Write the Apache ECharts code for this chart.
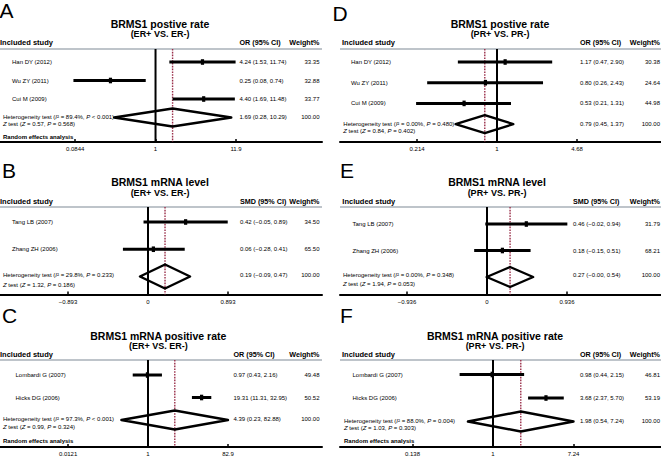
<!DOCTYPE html>
<html>
<head>
<meta charset="utf-8">
<script src="https://cdn.jsdelivr.net/npm/echarts@6/dist/echarts.min.js"></script>
<style>html,body{margin:0;padding:0;background:#fff}#c{width:661px;height:458px}</style>
</head>
<body>
<div id="c"></div>
<script>
const FF = '"Liberation Sans", Arial, Helvetica, sans-serif';
const MINUS = '\u2212';

// ---------- Panel A: BRMS1 postive rate (ER+ VS. ER-), OR ----------
const studiesA = ['Han DY (2012)', 'Wu ZY (2011)', 'Cui M (2009)'];
const estA = [4.24, 0.25, 4.40];
const lowA = [1.53, 0.08, 1.69];
const highA = [11.74, 0.74, 11.48];
const weightA = [33.35, 32.88, 33.77];
const pooledA = [1.69, 0.28, 10.29];
const hetA = ['89.4%', '< 0.001', '0.57', '0.568'];
const ticksA = [0.0844, 1, 11.9];

// ---------- Panel B: BRMS1 mRNA level (ER+ VS. ER-), SMD ----------
const studiesB = ['Tang LB (2007)', 'Zhang ZH (2006)'];
const estB = [0.42, 0.06];
const lowB = [-0.05, -0.28];
const highB = [0.89, 0.41];
const weightB = [34.50, 65.50];
const pooledB = [0.19, -0.09, 0.47];
const hetB = ['29.8%', '= 0.233', '1.32', '0.186'];
const ticksB = [-0.893, 0, 0.893];

// ---------- Panel C: BRMS1 mRNA positive rate (ER+ VS. ER-), OR ----------
const studiesC = ['Lombardi G (2007)', 'Hicks DG (2006)'];
const estC = [0.97, 19.31];
const lowC = [0.43, 11.31];
const highC = [2.16, 32.95];
const weightC = [49.48, 50.52];
const pooledC = [4.39, 0.23, 82.88];
const hetC = ['97.3%', '< 0.001', '0.99', '0.324'];
const ticksC = [0.0121, 1, 82.9];

// ---------- Panel D: BRMS1 postive rate (PR+ VS. PR-), OR ----------
const studiesD = ['Han DY (2012)', 'Wu ZY (2011)', 'Cui M (2009)'];
const estD = [1.17, 0.80, 0.53];
const lowD = [0.47, 0.26, 0.21];
const highD = [2.90, 2.43, 1.31];
const weightD = [30.38, 24.64, 44.98];
const pooledD = [0.79, 0.45, 1.37];
const hetD = ['0.00%', '= 0.480', '0.84', '0.402'];
const ticksD = [0.214, 1, 4.68];

// ---------- Panel E: BRMS1 mRNA level (PR+ VS. PR-), SMD ----------
const studiesE = ['Tang LB (2007)', 'Zhang ZH (2006)'];
const estE = [0.46, 0.18];
const lowE = [-0.02, -0.15];
const highE = [0.94, 0.51];
const weightE = [31.79, 68.21];
const pooledE = [0.27, -0.004, 0.54];
const hetE = ['0.00%', '= 0.348', '1.94', '0.053'];
const ticksE = [-0.936, 0, 0.936];

// ---------- Panel F: BRMS1 mRNA positive rate (PR+ VS. PR-), OR ----------
const studiesF = ['Lombardi G (2007)', 'Hicks DG (2006)'];
const estF = [0.98, 3.68];
const lowF = [0.44, 2.37];
const highF = [2.15, 5.70];
const weightF = [46.81, 53.19];
const pooledF = [1.98, 0.54, 7.24];
const hetF = ['88.0%', '= 0.004', '1.03', '0.303'];
const ticksF = [0.138, 1, 7.24];

const panels = [
  {letter:'A', title:'BRMS1 postive rate', sub:'(ER+ VS. ER-)', measure:'OR (95% CI)', log:true, random:true,
   names:studiesA, est:estA, low:lowA, high:highA, weight:weightA, pooled:pooledA, het:hetA, ticks:ticksA,
   ox:0, w:322, letterPos:[-0.5,10.5], titleX:160, titleY:23.5, subY:33.5, headY:42, lineY:49, axisY:142,
   yr:[-0.703,4.324], span:[-1.932,2.068], headX:0, nameX:12, ciX:239.5, wX:319.5, hetX:3, hetDy:[-0.5,6.8], dia:9, randomY:137},
  {letter:'B', title:'BRMS1 mRNA level', sub:'(ER+ VS. ER-)', measure:'SMD (95% CI)', log:false, random:false,
   names:studiesB, est:estB, low:lowB, high:highB, weight:weightB, pooled:pooledB, het:hetB, ticks:ticksB,
   ox:0, w:322, letterPos:[2,170.5], titleX:160, titleY:181.5, subY:192.5, headY:201, lineY:207, axisY:294.5,
   yr:[-0.55,2.661], span:[-1.85,2.175], headX:0, nameX:12, ciX:240, wX:319.5, hetX:3, hetDy:[-1.2,9], dia:12, randomY:0},
  {letter:'C', title:'BRMS1 mRNA positive rate', sub:'(ER+ VS. ER-)', measure:'OR (95% CI)', log:true, random:true,
   names:studiesC, est:estC, low:lowC, high:highC, weight:weightC, pooled:pooledC, het:hetC, ticks:ticksC,
   ox:0, w:322, letterPos:[2,315.5], titleX:158.3, titleY:335.5, subY:346, headY:354, lineY:360, axisY:447,
   yr:[-0.667,3.2], span:[-1.85,2.175], headX:0, nameX:15.5, ciX:233.5, wX:319.5, hetX:3, hetDy:[-1,7], dia:9.5, randomY:441},
  {letter:'D', title:'BRMS1 postive rate', sub:'(PR+ VS. PR-)', measure:'OR (95% CI)', log:true, random:false,
   names:studiesD, est:estD, low:lowD, high:highD, weight:weightD, pooled:pooledD, het:hetD, ticks:ticksD,
   ox:340, w:321, letterPos:[332.5,13], titleX:160, titleY:23.5, subY:33.5, headY:42, lineY:49, axisY:142,
   yr:[-0.628,3.865], span:[-1.9625,2.05], headX:2, nameX:11, ciX:240, wX:320, hetX:3.3, hetDy:[0,7], dia:9, randomY:0},
  {letter:'E', title:'BRMS1 mRNA level', sub:'(PR+ VS. PR-)', measure:'SMD (95% CI)', log:false, random:false,
   names:studiesE, est:estE, low:lowE, high:highE, weight:weightE, pooled:pooledE, het:hetE, ticks:ticksE,
   ox:340, w:321, letterPos:[340,170.5], titleX:157, titleY:181.5, subY:192.5, headY:201, lineY:207, axisY:294.5,
   yr:[-0.642,2.66], span:[-1.8375,2.175], headX:2.3, nameX:12.5, ciX:233, wX:320, hetX:3, hetDy:[-2.4,7.3], dia:10, randomY:0},
  {letter:'F', title:'BRMS1 mRNA positive rate', sub:'(PR+ VS. PR-)', measure:'OR (95% CI)', log:true, random:true,
   names:studiesF, est:estF, low:lowF, high:highF, weight:weightF, pooled:pooledF, het:hetF, ticks:ticksF,
   ox:340, w:321, letterPos:[340,315.5], titleX:155, titleY:335.5, subY:346, headY:354, lineY:360, axisY:447,
   yr:[-0.617,3.085], span:[-1.9006,2.087], headX:2, nameX:12.5, ciX:240, wX:320, hetX:4, hetDy:[-0.5,6.8], dia:10, randomY:441}
];

function fmt(v) { return v.toFixed(2).replace('-', MINUS); }
function ciText(e, l, h) { return fmt(e) + ' (' + fmt(l) + ', ' + fmt(h) + ')'; }
function txt(x, y, text, align, extra) {
  return {type:'text', x:x, y:y, style:Object.assign({text:text, fontSize:6, fontFamily:FF, fill:'#000', align:align || 'left', verticalAlign:'middle'}, extra || {})};
}

const grid = [], xAxis = [], yAxis = [], series = [], graphics = [];

panels.forEach((P, k) => {
  const tx = P.log ? (v => Math.log10(v)) : (v => v);
  const T = tx(P.ticks[2]);
  const tickPos = P.ticks.map(tx);
  grid.push({left:P.ox, top:P.lineY, width:P.w, height:P.axisY - P.lineY, containLabel:false});
  xAxis.push({
    gridIndex:k, type:'value', min:P.span[0] * T, max:P.span[1] * T,
    axisLine:{show:true, onZero:false, lineStyle:{color:'#000', width:2}},
    axisTick:{show:true, inside:true, length:3, customValues:tickPos, lineStyle:{color:'#000', width:1.5}},
    axisLabel:{show:true, customValues:tickPos, margin:4, fontSize:6, color:'#000', fontFamily:FF,
      formatter:function (v) {
        let best = P.ticks[0], bd = Infinity;
        P.ticks.forEach(t => { const d = Math.abs(tx(t) - v); if (d < bd) { bd = d; best = t; } });
        return String(best).replace('-', MINUS);
      }},
    splitLine:{show:false}
  });
  yAxis.push({gridIndex:k, type:'value', inverse:true, min:P.yr[0], max:P.yr[1], show:false});

  const nStudy = P.names.length;
  // reference lines: null effect (solid) and pooled estimate (dotted red)
  series.push({
    type:'custom', xAxisIndex:k, yAxisIndex:k, z:1, silent:true,
    encode:{x:[0,1], y:2},
    data:[[tx(P.log ? 1 : 0), tx(P.pooled[0]), 0]],
    renderItem:function (params, api) {
      const cs = params.coordSys;
      const x0 = api.coord([api.value(0), 0])[0];
      const xp = api.coord([api.value(1), 0])[0];
      return {type:'group', children:[
        {type:'line', shape:{x1:x0, y1:cs.y, x2:x0, y2:cs.y + cs.height}, style:{stroke:'#000', lineWidth:2}},
        {type:'line', shape:{x1:xp, y1:cs.y, x2:xp, y2:cs.y + cs.height}, style:{stroke:'#9a2f4a', lineWidth:1.4, lineDash:[1.6,1.2]}}
      ]};
    }
  });
  // individual studies
  series.push({
    type:'custom', xAxisIndex:k, yAxisIndex:k, z:2, silent:true,
    encode:{x:[0,1,2], y:3},
    data:P.names.map((n, i) => [tx(P.est[i]), tx(P.low[i]), tx(P.high[i]), i]),
    renderItem:function (params, api) {
      const i = params.dataIndex, cs = params.coordSys;
      const r = api.value(3);
      const pe = api.coord([api.value(0), r]);
      const pl = api.coord([api.value(1), r]);
      const ph = api.coord([api.value(2), r]);
      const y = pe[1];
      return {type:'group', children:[
        {type:'line', shape:{x1:pl[0], y1:y, x2:ph[0], y2:y}, style:{stroke:'#000', lineWidth:3}},
        {type:'rect', shape:{x:pe[0] - 1.6, y:y - 2.8, width:3.2, height:5.6}, style:{fill:'#000'}},
        txt(cs.x + P.nameX, y, P.names[i], 'left'),
        txt(cs.x + P.ciX, y, ciText(P.est[i], P.low[i], P.high[i]), 'left'),
        txt(cs.x + P.wX, y, P.weight[i].toFixed(2), 'right')
      ]};
    }
  });
  // pooled estimate
  series.push({
    type:'custom', xAxisIndex:k, yAxisIndex:k, z:3, silent:true,
    encode:{x:[0,1,2], y:3},
    data:[[tx(P.pooled[0]), tx(P.pooled[1]), tx(P.pooled[2]), nStudy]],
    renderItem:function (params, api) {
      const cs = params.coordSys;
      const r = api.value(3);
      const pe = api.coord([api.value(0), r]);
      const pl = api.coord([api.value(1), r]);
      const ph = api.coord([api.value(2), r]);
      const y = pe[1], h = P.dia;
      const rich = {
        it:{fontStyle:'italic', fontSize:6, fontFamily:FF, fill:'#000'},
        n:{fontSize:6, fontFamily:FF, fill:'#000'}
      };
      const l1 = '{n|Heterogeneity test (}{it|I}{n|\u00b2 = ' + P.het[0] + ', }{it|P}{n| ' + P.het[1] + ')}';
      const l2 = '{it|Z}{n| test (}{it|Z}{n| = ' + P.het[2] + ', }{it|P}{n| = ' + P.het[3] + ')}';
      const y1 = y + P.hetDy[0], y2 = y + P.hetDy[1];
      return {type:'group', children:[
        {type:'polygon', shape:{points:[[pl[0], y], [pe[0], y - h], [ph[0], y], [pe[0], y + h]]},
         style:{stroke:'#000', fill:null, lineWidth:2.4, lineJoin:'round'}},
        txt(cs.x + P.hetX, y1, l1, 'left', {rich:rich}),
        txt(cs.x + P.hetX, y2, l2, 'left', {rich:rich}),
        txt(cs.x + P.ciX, y1, ciText(P.pooled[0], P.pooled[1], P.pooled[2]), 'left'),
        txt(cs.x + P.wX, y1, (100).toFixed(2), 'right')
      ]};
    }
  });

  // static texts
  graphics.push({type:'text', x:P.letterPos[0], y:P.letterPos[1],
    style:{text:P.letter, fontSize:21, fontFamily:FF, fill:'#000', align:'left', verticalAlign:'middle'}});
  graphics.push({type:'text', x:P.ox + P.titleX, y:P.titleY,
    style:{text:P.title, fontSize:10.5, fontWeight:'bold', fontFamily:FF, fill:'#000', align:'center', verticalAlign:'middle'}});
  graphics.push({type:'text', x:P.ox + P.titleX, y:P.subY,
    style:{text:P.sub, fontSize:9, fontWeight:'bold', fontFamily:FF, fill:'#000', align:'center', verticalAlign:'middle'}});
  graphics.push({type:'text', x:P.ox + P.headX, y:P.headY,
    style:{text:'Included study', fontSize:7.5, fontWeight:'bold', fontFamily:FF, fill:'#000', align:'left', verticalAlign:'middle'}});
  graphics.push({type:'text', x:P.ox + P.ciX, y:P.headY,
    style:{text:P.measure, fontSize:7.2, fontWeight:'bold', fontFamily:FF, fill:'#000', align:'left', verticalAlign:'middle'}});
  graphics.push({type:'text', x:P.ox + P.wX, y:P.headY,
    style:{text:'Weight%', fontSize:7.2, fontWeight:'bold', fontFamily:FF, fill:'#000', align:'right', verticalAlign:'middle'}});
  graphics.push({type:'line', shape:{x1:P.ox, y1:P.lineY, x2:P.ox + P.w, y2:P.lineY},
    style:{stroke:'#a9b1b8', lineWidth:1.6}});
  if (P.random) {
    graphics.push({type:'text', x:P.ox + P.hetX, y:P.randomY,
      style:{text:'Random effects analysis', fontSize:6, fontWeight:'bold', fontFamily:FF, fill:'#000', align:'left', verticalAlign:'middle'}});
  }
});

const chart = echarts.init(document.getElementById('c'), null, {renderer:'svg'});
chart.setOption({
  animation:false,
  backgroundColor:'#fff',
  textStyle:{fontFamily:FF},
  grid:grid, xAxis:xAxis, yAxis:yAxis, series:series,
  graphic:{elements:graphics}
});
</script>
</body>
</html>
